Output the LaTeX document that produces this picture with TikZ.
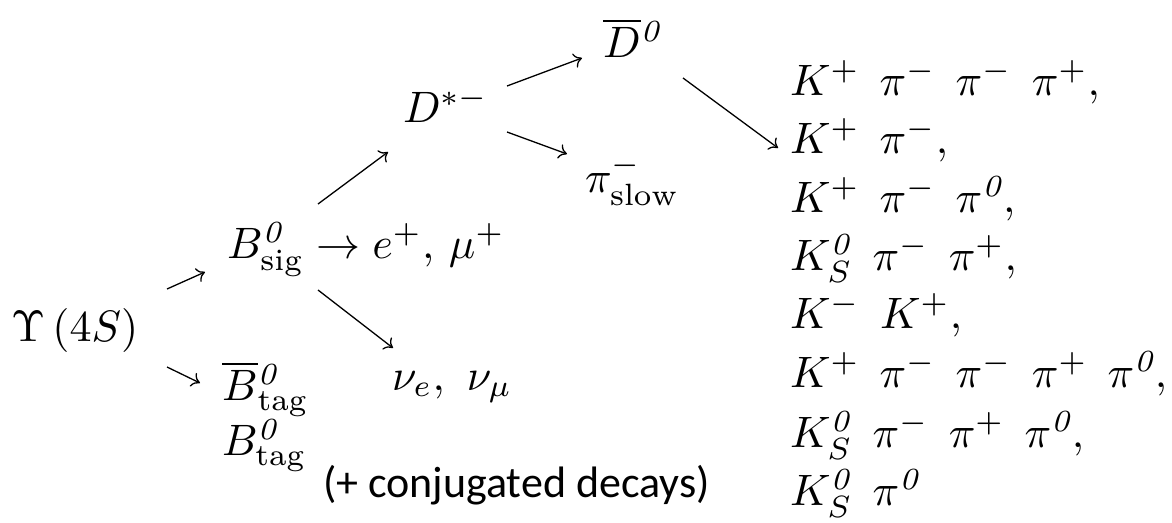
\documentclass[tikz,border=0pt]{standalone}
\usepackage{fontspec}
\newfontfamily\calib{Carlito}
\usetikzlibrary{arrows.meta}
\newcommand{\zr}{\mathit{0}}
\newcommand{\gp}{\hspace{0.45em}}
\begin{document}
\begin{tikzpicture}[x=1pt,y=-1pt,
  lbl/.style={inner sep=0pt,outer sep=0pt,anchor=base west,scale=4.4,transform shape},
  arr/.style={line width=1.3pt,-{To[length=8pt,width=15pt]}}]
\useasboundingbox (0,0) rectangle (1172,522);
\node[lbl] (ups) at (11,341) {$\Upsilon\,(4S)$};
\node[lbl] (bsig) at (227,258) {$B^{\zr}_{\mathrm{sig}}$};
\node[lbl,anchor=base west] (lep) at (bsig.base east) {$\;\rightarrow e^{+},\, \mu^{+}$};
\node[lbl] (btagbar) at (222,400) {$\overline{B}{}^{\zr}_{\mathrm{tag}}$};
\node[lbl] (btag) at (222,455) {$B^{\zr}_{\mathrm{tag}}$};
\node[lbl] (dstar) at (403,122) {$D^{*-}$};
\node[lbl] (d0) at (603,57) {$\overline{D}{}^{\zr}$};
\node[lbl] (pislow) at (585,192) {$\pi^{-}_{\mathrm{slow}}$};
\node[lbl] (nu) at (392,390) {$\nu_{e},\ \nu_{\mu}$};
\node[lbl,font=\calib] (conj) at (323,497) {(+ conjugated decays)};
\node[lbl] (r1) at (790,95) {$K^{+}\gp\pi^{-}\gp\pi^{-}\gp\pi^{+},$};
\node[lbl] (r2) at (790,153) {$K^{+}\gp\pi^{-},$};
\node[lbl] (r3) at (790,212) {$K^{+}\gp\pi^{-}\gp\pi^{\zr},$};
\node[lbl] (r4) at (790,270) {$K^{\zr}_{S}\gp\pi^{-}\gp\pi^{+},$};
\node[lbl] (r5) at (790,328) {$K^{-}\gp K^{+},$};
\node[lbl] (r6) at (790,387) {$K^{+}\gp\pi^{-}\gp\pi^{-}\gp\pi^{+}\gp\pi^{\zr},$};
\node[lbl] (r7) at (790,447) {$K^{\zr}_{S}\gp\pi^{-}\gp\pi^{+}\gp\pi^{\zr},$};
\node[lbl] (r8) at (790,505) {$K^{\zr}_{S}\gp\pi^{\zr}$};
\draw[arr] ([shift={(156,-52)}]ups.base west) -- ([shift={(-22,14)}]bsig.base west);
\draw[arr] ([shift={(156,26)}]ups.base west) -- ([shift={(-22,-17)}]btagbar.base west);
\draw[arr] ([shift={(91,-54)}]bsig.base west) -- ([shift={(-15,30)}]dstar.base west);
\draw[arr] ([shift={(91,32)}]bsig.base west) -- ([shift={(1,-42)}]nu.base west);
\draw[arr] ([shift={(104,-36)}]dstar.base west) -- ([shift={(-21,1)}]d0.base west);
\draw[arr] ([shift={(104,10)}]dstar.base west) -- ([shift={(-18,-38)}]pislow.base west);
\draw[arr] ([shift={(80,21)}]d0.base west) -- ([shift={(-12,-5)}]r2.base west);
\end{tikzpicture}
\end{document}
